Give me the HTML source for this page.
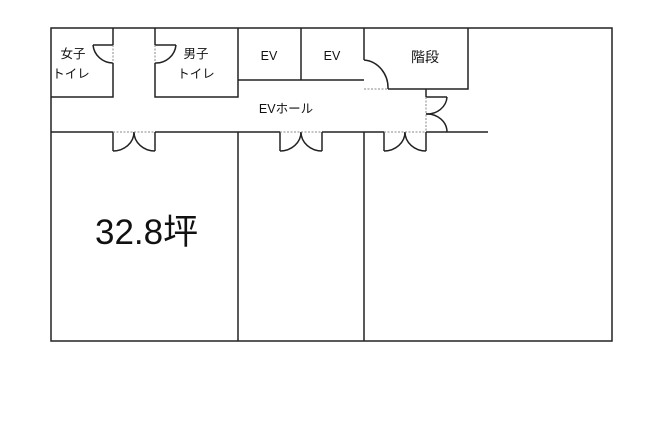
<!DOCTYPE html>
<html><head><meta charset="utf-8"><style>
html,body{margin:0;padding:0;background:#fff;}
svg{display:block;}
text{font-family:"Liberation Sans","Noto Sans CJK JP",sans-serif;fill:#111;}
</style></head><body>
<svg width="650" height="421" viewBox="0 0 650 421" xmlns="http://www.w3.org/2000/svg">
<g stroke="#222" stroke-width="1.5" fill="none">
<rect x="51" y="28" width="561" height="313"/>
<polyline points="113,28 113,45"/>
<polyline points="113,63 113,97 51,97"/>
<line x1="113" y1="45" x2="93" y2="45"/>
<path d="M93,45 A20,20 0 0 0 113,63"/>
<polyline points="155,28 155,45"/>
<polyline points="155,63 155,97 238,97 238,28"/>
<line x1="155" y1="45" x2="176" y2="45"/>
<path d="M176,45 A20,20 0 0 1 155,63"/>
<polyline points="238,80 364,80"/>
<line x1="301" y1="28" x2="301" y2="80"/>
<line x1="364" y1="28" x2="364" y2="60"/>
<polyline points="388,89 468,89 468,28"/>
<path d="M364,60 A26,28 0 0 1 388,89"/>
<line x1="426" y1="89" x2="426" y2="97"/>
<line x1="426" y1="97" x2="447" y2="97"/>
<path d="M447,97 A20,18 0 0 1 426,114"/>
<path d="M426,114 A20,18 0 0 1 447,132"/>
<line x1="51" y1="132" x2="113" y2="132"/>
<line x1="155" y1="132" x2="280" y2="132"/>
<line x1="322" y1="132" x2="384" y2="132"/>
<line x1="426" y1="132" x2="488" y2="132"/>
<line x1="238" y1="132" x2="238" y2="341"/>
<line x1="364" y1="132" x2="364" y2="341"/>
<g>
<line x1="113" y1="132" x2="113" y2="151"/><line x1="155" y1="132" x2="155" y2="151"/>
<path d="M113,151 A21,19 0 0 0 134,132"/><path d="M155,151 A21,19 0 0 1 134,132"/>
</g>
<g>
<line x1="280" y1="132" x2="280" y2="151"/><line x1="322" y1="132" x2="322" y2="151"/>
<path d="M280,151 A21,19 0 0 0 301,132"/><path d="M322,151 A21,19 0 0 1 301,132"/>
</g>
<g>
<line x1="384" y1="132" x2="384" y2="151"/><line x1="426" y1="132" x2="426" y2="151"/>
<path d="M384,151 A21,19 0 0 0 405,132"/><path d="M426,151 A21,19 0 0 1 405,132"/>
</g>
</g>
<g stroke="#888" stroke-width="1" stroke-dasharray="2,1.5" fill="none">
<line x1="113" y1="45" x2="113" y2="63"/>
<line x1="155" y1="45" x2="155" y2="63"/>
<line x1="364" y1="89" x2="388" y2="89"/>
<line x1="426" y1="97" x2="426" y2="132"/>
<line x1="113" y1="132" x2="155" y2="132"/>
<line x1="280" y1="132" x2="322" y2="132"/>
<line x1="384" y1="132" x2="426" y2="132"/>
</g>
<g font-size="12.5" text-anchor="middle">
<text x="73" y="58">女子</text>
<text x="71" y="78">トイレ</text>
<text x="196" y="58">男子</text>
<text x="196" y="78">トイレ</text>
<text x="269" y="60">EV</text>
<text x="332" y="60">EV</text>
<text x="425" y="62" font-size="14">階段</text>
<text x="286" y="113">EVホール</text>
</g>
<text x="95" y="244" font-size="35">32.8坪</text>
</svg>
</body></html>
